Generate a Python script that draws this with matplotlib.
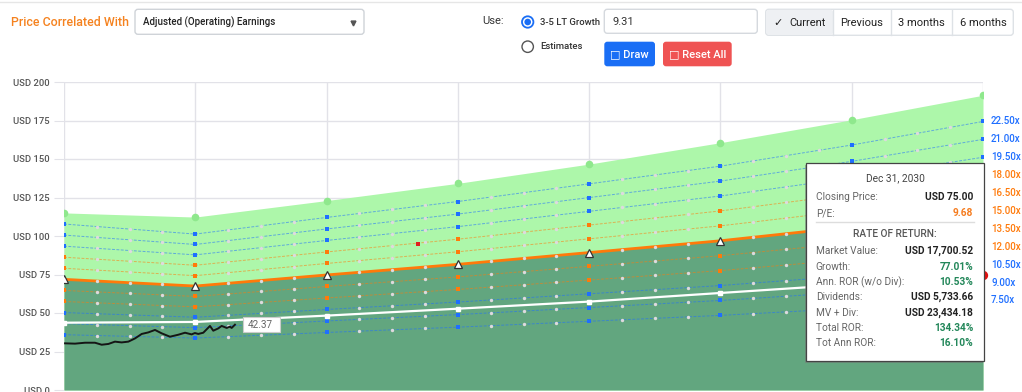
import numpy as np
import matplotlib
matplotlib.use("Agg")
import matplotlib.pyplot as plt
from matplotlib.patches import FancyBboxPatch, Rectangle, Circle

plt.rcParams["font.family"] = ["Roboto", "DejaVu Sans"]

# --- Veriler ---
YEARS = [2023, 2024, 2025, 2026, 2027, 2028, 2029, 2030]
EPS = [4.79, 4.50, 4.98, 5.44, 5.95, 6.46, 7.07, 7.75]
PE_LINES = [7.5, 9.0, 10.5, 12.0, 13.5, 15.0, 16.5, 18.0, 19.5, 21.0, 22.5]
PE_GROUP = ["blue", "blue", "blue", "orange", "orange", "main",
            "orange", "orange", "blue", "blue", "blue"]
TOP_BAND = [115.0, 112.3, 123.0, 134.2, 146.7, 160.6, 175.5, 191.4]
PROJ_PRICE = [43.7, 44.2, 48.3, 52.8, 57.4, 63.0, 68.6, 75.0]

# gunluk fiyat (yil cinsinden konum, USD)
PRICE_T = [0.008, 0.084, 0.160, 0.236, 0.287, 0.338, 0.388, 0.439, 0.490, 0.541,
           0.592, 0.642, 0.693, 0.744, 0.807, 0.871, 0.922, 0.972, 0.997, 1.023,
           1.061, 1.112, 1.137, 1.175, 1.201, 1.239, 1.264, 1.277, 1.302]
PRICE = [30.3, 30.1, 30.7, 30.7, 29.4, 29.9, 31.4, 30.9, 31.4, 33.5,
         36.4, 37.4, 39.0, 36.8, 34.6, 35.9, 37.2, 36.1, 37.0, 36.4,
         37.2, 41.6, 38.5, 40.0, 41.6, 40.3, 41.1, 40.3, 42.4]
LAST_PRICE = "42.37"
STRAY_POINT = (2.70, 94.8)
HOVER_POINT = (7.0, 75.0)

Y_TICKS = [0, 25, 50, 75, 100, 125, 150, 175, 200]

TOOLTIP_DATE = "Dec 31, 2030"
TOOLTIP_TOP = [("Closing Price:", "USD 75.00", "dark"), ("P/E:", "9.68", "orange")]
TOOLTIP_ROR = [("Market Value:", "USD 17,700.52", "dark"),
               ("Growth:", "77.01%", "green"),
               ("Ann. ROR (w/o Div):", "10.53%", "green"),
               ("Dividends:", "USD 5,733.66", "dark"),
               ("MV + Div:", "USD 23,434.18", "dark"),
               ("Total ROR:", "134.34%", "green"),
               ("Tot Ann ROR:", "16.10%", "green")]

PERIOD_BUTTONS = ["Current", "Previous", "3 months", "6 months"]

# --- Renkler ---
BLUE = "#1f6fff"
ORANGE = "#ff7a0a"
LIGHT_GREEN = "#adf7aa"
DARK_GREEN = "#62a67f"
GRID = "#e2e2e8"
VAL_COLORS = {"dark": "#222222", "orange": "#f57c1f", "green": "#23875a"}
LINE_COLORS = {"blue": BLUE, "orange": ORANGE, "main": ORANGE}

W, H = 1022, 392
fig = plt.figure(figsize=(W / 100, H / 100), dpi=100)
ax = fig.add_axes([64 / W, 2 / H, 919 / W, 308 / H])

x = np.arange(len(YEARS))
eps = np.array(EPS)
qx = np.array([i + q for i in range(len(YEARS) - 1) for q in (0.25, 0.5, 0.75)])

# alanlar
ax.fill_between(x, 0, TOP_BAND, color=LIGHT_GREEN, lw=0, zorder=1)
ax.fill_between(x, 0, 15.0 * eps, color=DARK_GREEN, lw=0, zorder=2)
ax.scatter(x, TOP_BAND, s=30, color="#8fe88d", zorder=3, lw=0)

# P/E cizgileri
for pe, grp in zip(PE_LINES, PE_GROUP):
    vals = pe * eps
    c = LINE_COLORS[grp]
    if grp == "main":
        ax.plot(x, vals, color=c, lw=2.0, zorder=6)
    else:
        ax.plot(x, vals, color=c, lw=0.7, ls=(0, (3, 1.5)), alpha=0.55, zorder=4)
        ax.scatter(x, vals, s=6, marker="s", color=c, lw=0, zorder=7)
    ax.scatter(qx, np.interp(qx, x, vals), s=6, color="#dedade", lw=0, zorder=7)
    ax.annotate(f"{pe:.2f}x", xy=(x[-1], vals[-1]), xytext=(8, 0),
                textcoords="offset pixels", va="center", ha="left",
                color=BLUE if grp == "blue" else ORANGE,
                fontsize=7, fontweight="medium", annotation_clip=False)

# projeksiyon (beyaz) cizgisi
ax.plot(x, PROJ_PRICE, color="white", lw=1.6, marker="s", ms=3.5, zorder=8)

# 15x uzerindeki ucgenler
ax.plot(x, 15.0 * eps, ls="none", marker="^", ms=6, mfc="white", mec="#333333",
        mew=0.9, zorder=9)

# fiyat
ax.plot(PRICE_T, PRICE, color="#151515", lw=1.4, zorder=9)
ax.scatter([STRAY_POINT[0]], [STRAY_POINT[1]], s=8, marker="s", color="#e02020",
           lw=0, zorder=8)
ax.scatter([HOVER_POINT[0]], [HOVER_POINT[1]], s=45, color="#e01010", lw=0,
           zorder=9, clip_on=False)

ax.set_xlim(0, len(YEARS) - 1)
ax.set_ylim(0, 200)
ax.set_xticks(x)
ax.set_xticklabels([])
ax.set_yticks(Y_TICKS)
ax.set_yticklabels([f"USD {v}" for v in Y_TICKS])
ax.tick_params(axis="y", length=7, color=GRID, pad=3, labelsize=6.8,
               labelcolor="#555555")
ax.tick_params(axis="x", length=0)
for lab in ax.get_yticklabels():
    lab.set_fontweight("medium")
ax.grid(True, color=GRID, lw=1, zorder=0)
ax.set_axisbelow(True)
for s in ax.spines.values():
    s.set_visible(False)

# --- Ust kontroller ve tooltip (piksel koordinatli katman) ---
ov = fig.add_axes([0, 0, 1, 1], zorder=10)
ov.set_xlim(0, W)
ov.set_ylim(H, 0)
ov.axis("off")
ov.patch.set_visible(False)


def rbox(x0, y0, w, h, fc, ec="none", r=3, lw=1.0, z=1):
    ov.add_patch(FancyBboxPatch((x0, y0), w, h, boxstyle=f"round,pad=0,rounding_size={r}",
                                fc=fc, ec=ec, lw=lw, zorder=z))


ov.plot([0, W], [1.7, 1.7], color="#e6e6e6", lw=1)
ov.text(11, 22.5, "Price Correlated With", color="#f5821f", fontsize=8.9,
        fontweight="medium", va="center")
rbox(135, 9.3, 229, 25, "white", "#cfd3d8")
ov.text(143, 22.7, "Adjusted (Operating) Earnings", color="#222222", fontsize=7,
        fontweight="medium", va="center")
ov.plot([353], [22.7], marker="v", ms=3.5, color="#555555")

ov.text(482, 21, "Use:", color="#333333", fontsize=8, va="center")
ov.add_patch(Circle((527.7, 22), 5.7, fc="white", ec="#1a6ef5", lw=1.3))
ov.add_patch(Circle((527.7, 22), 3.3, fc="#1a6ef5", ec="none"))
ov.add_patch(Circle((527.7, 46.7), 5.7, fc="white", ec="#555555", lw=1.0))
ov.text(540, 22, "3-5 LT Growth", color="#333333", fontsize=6.8,
        fontweight="medium", va="center")
ov.text(540, 46.5, "Estimates", color="#333333", fontsize=6.8,
        fontweight="medium", va="center")

rbox(604.3, 9.3, 153, 24, "white", "#d5d9de")
ov.text(612.7, 22, "9.31", color="#333333", fontsize=8, va="center")

rbox(765.7, 9.3, 247.6, 26, "white", "#dee2e6")
rbox(766.2, 9.8, 67, 25, "#eef0f3", r=3)
for dx in (833.3, 891.0, 952.3):
    ov.plot([dx, dx], [9.8, 34.8], color="#dee2e6", lw=1)
ov.text(778, 22.7, "\u2713", color="#222222", fontsize=8, va="center", ha="center",
        family=["DejaVu Sans"])
ov.text(789, 22.7, PERIOD_BUTTONS[0], color="#222222", fontsize=8, va="center")
for cx, lab in zip((862, 921.7, 983), PERIOD_BUTTONS[1:]):
    ov.text(cx, 22.7, lab, color="#222222", fontsize=8, va="center", ha="center")

rbox(604.3, 41.7, 50.7, 24.6, "#1a6ef5")
ov.text(629.7, 54, "\u25a1 Draw", color="white", fontsize=8, fontweight="medium",
        va="center", ha="center")
rbox(663, 41.7, 68.7, 24.6, "#ef5353")
ov.text(697.3, 54, "\u25a1 Reset All", color="white", fontsize=8, fontweight="medium",
        va="center", ha="center")

# son fiyat etiketi
ov.add_patch(Rectangle((242.7, 317.3), 37.3, 15, fc="white", ec="#cccccc", lw=0.8))
ov.text(247.5, 325, LAST_PRICE, color="#666666", fontsize=7.2, va="center")

# tooltip
ov.add_patch(Rectangle((805, 164.5), 178, 198, fc="#777777", ec="none", alpha=0.5))
ov.add_patch(Rectangle((806, 163.3), 178, 197.7, fc="white", ec="#444444", lw=0.9))
ov.text(895, 178.7, TOOLTIP_DATE, color="#444444", fontsize=7.3, va="center", ha="center")
ty = 197.3
for lab, val, col in TOOLTIP_TOP:
    ov.text(815.7, ty, lab, color="#666666", fontsize=7.3, va="center")
    ov.text(973.3, ty, val, color=VAL_COLORS[col], fontsize=7.3, fontweight="bold",
            va="center", ha="right")
    ty += 15.7
ov.plot([815.5, 973.5], [222.3, 222.3], color="#dddddd", lw=1)
ov.text(895, 234.3, "RATE OF RETURN:", color="#555555", fontsize=7.3,
        fontweight="medium", va="center", ha="center")
ty = 251.3
for lab, val, col in TOOLTIP_ROR:
    ov.text(815.7, ty, lab, color="#666666", fontsize=7.3, va="center")
    ov.text(973.3, ty, val, color=VAL_COLORS[col], fontsize=7.3, fontweight="bold",
            va="center", ha="right")
    ty += 15.33

fig.savefig("out.png", dpi=100)
